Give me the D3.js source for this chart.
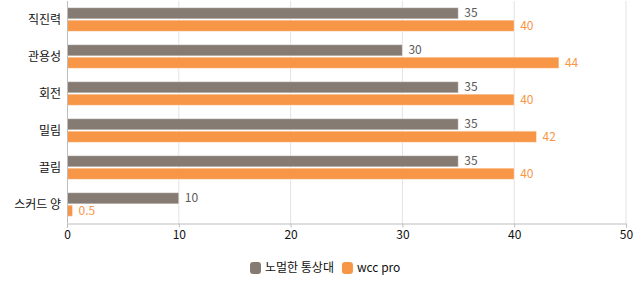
<!DOCTYPE html>
<html><head><meta charset="utf-8">
<script src="https://cdn.jsdelivr.net/npm/d3@7"></script>
<style>body{margin:0;background:#fff;font-family:"Noto Sans CJK KR","Noto Sans",sans-serif;}</style>
</head><body><svg id="c" width="642" height="287"></svg>
<script>
const categories = ["직진력","관용성","회전","밀림","끌림","스커드 양"];
const seriesNames = ["노멀한 통상대","wcc pro"];
const seriesA = [35,30,35,35,35,10];
const seriesB = [40,44,40,42,40,0.5];
const xTicks = [0,10,20,30,40,50];
const colors = ["#857b73","#f79646"];
const labelColors = ["#5a5a5a","#f79646"];

const svg = d3.select("#c");
const m = {l:67, r:16, t:1, b:64};
const W = 642, H = 287;
const x = d3.scaleLinear().domain([0,50]).range([m.l, W-m.r]);
const y = d3.scaleBand().domain(categories).range([m.t, H-m.b]).paddingInner(0.36).paddingOuter(0.18);
const ys = d3.scaleBand().domain([0,1]).range([0, y.bandwidth()]).paddingInner(0.1);

// grid
svg.append("g").selectAll("line").data(xTicks.slice(1)).join("line")
  .attr("x1",d=>x(d)).attr("x2",d=>x(d)).attr("y1",m.t).attr("y2",H-m.b)
  .attr("stroke","#e3e3e3").attr("stroke-width",1);

const series = [seriesA, seriesB];
series.forEach((vals,si)=>{
  const g = svg.append("g");
  g.selectAll("rect").data(vals).join("rect")
    .attr("x", x(0)).attr("y",(d,i)=>y(categories[i])+ys(si))
    .attr("width",d=>x(d)-x(0)).attr("height",ys.bandwidth())
    .attr("fill",colors[si]).attr("stroke","#ffffff").attr("stroke-opacity",0.5).attr("stroke-width",1);
  g.selectAll("text").data(vals).join("text")
    .attr("x",d=>x(d)+6).attr("y",(d,i)=>y(categories[i])+ys(si)+ys.bandwidth()/2)
    .attr("dy","0.35em").attr("font-size",12).attr("fill",labelColors[si])
    .text(d=>d);
});

// y axis
svg.append("line").attr("x1",x(0)+0.5).attr("x2",x(0)+0.5).attr("y1",m.t).attr("y2",H-m.b).attr("stroke","#bdbdbd");
svg.append("g").selectAll("text").data(categories).join("text")
  .attr("x",x(0)-6).attr("y",d=>y(d)+y.bandwidth()/2).attr("dy","0.35em")
  .attr("text-anchor","end").attr("font-size",12).attr("fill","#111").text(d=>d);

// x axis
const xa = svg.append("g").attr("transform",`translate(0,${H-m.b+0.5})`)
  .call(d3.axisBottom(x).tickValues(xTicks).tickSize(4).tickPadding(3));
xa.select(".domain").attr("stroke","#bdbdbd");
xa.selectAll(".tick line").attr("stroke","#bdbdbd");
xa.selectAll("text").attr("font-size",12).attr("fill","#111").attr("font-family","'Noto Sans CJK KR','Noto Sans',sans-serif");

// legend
const leg = svg.append("g").attr("transform","translate(250,268)");
let off = 0;
seriesNames.forEach((n,i)=>{
  const gi = leg.append("g").attr("transform",`translate(${off},0)`);
  gi.append("rect").attr("x",0).attr("y",-6).attr("width",11).attr("height",12).attr("rx",3).attr("fill",colors[i]);
  const t = gi.append("text").attr("x",15).attr("dy","0.35em").attr("font-size",12).attr("fill","#111").text(n);
  off += 15 + t.node().getComputedTextLength() + 8;
});
</script></body></html>
